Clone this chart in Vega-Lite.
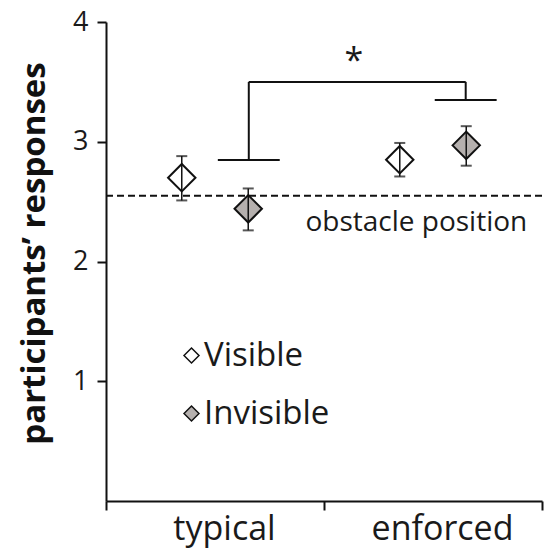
{
  "$schema": "https://vega.github.io/schema/vega-lite/v6.json",
  "width": 436,
  "height": 479,
  "autosize": "none",
  "padding": {"left": 106, "top": 22, "right": 13, "bottom": 49},
  "background": "white",
  "config": {"view": {"stroke": null}, "font": "Open Sans"},
  "resolve": {"scale": {"x": "independent"}},
  "layer": [
    {
      "encoding": {
        "x": {"field": "x", "type": "quantitative", "scale": {"domain": [0, 2]}, "axis": null},
        "y": {"field": "y", "type": "quantitative", "scale": {"domain": [0, 4]}}
      },
      "layer": [
        {
          "data": {"values": [{"y": 2.55}]},
          "mark": {"type": "rule", "color": "#111", "strokeWidth": 2, "strokeDash": [7, 4]},
          "encoding": {"x": null}
        },
        {
          "data": {"values": [
            {"x": 0.655, "x2": 1.65, "y": 3.5, "y2": 3.5},
            {"x": 0.655, "x2": 0.655, "y": 2.848, "y2": 3.5},
            {"x": 1.65, "x2": 1.65, "y": 3.349, "y2": 3.5},
            {"x": 0.513, "x2": 0.797, "y": 2.848, "y2": 2.848},
            {"x": 1.508, "x2": 1.792, "y": 3.349, "y2": 3.349}
          ]},
          "mark": {"type": "rule", "color": "#111", "strokeWidth": 2},
          "encoding": {"x2": {"field": "x2"}, "y2": {"field": "y2"}}
        },
        {
          "data": {"values": [{"x": 1.137, "y": 3.58, "label": "*"}]},
          "mark": {"type": "text", "fontSize": 34, "align": "center", "baseline": "alphabetic", "color": "#1a1a1a"},
          "encoding": {"text": {"field": "label"}}
        },
        {
          "data": {"values": [{"x": 0.915, "y": 2.255, "label": "obstacle position"}]},
          "mark": {"type": "text", "fontSize": 28, "align": "left", "baseline": "alphabetic", "color": "#1a1a1a"},
          "encoding": {"text": {"field": "label"}}
        }
      ]
    },
    {
      "data": {"values": [
        {"condition": "typical", "visibility": "Visible", "mean": 2.70, "lo": 2.51, "hi": 2.88},
        {"condition": "typical", "visibility": "Invisible", "mean": 2.44, "lo": 2.26, "hi": 2.61},
        {"condition": "enforced", "visibility": "Visible", "mean": 2.85, "lo": 2.71, "hi": 2.99},
        {"condition": "enforced", "visibility": "Invisible", "mean": 2.97, "lo": 2.80, "hi": 3.13}
      ]},
      "encoding": {
        "x": {
          "field": "condition", "type": "nominal", "sort": ["typical", "enforced"],
          "scale": {"paddingInner": 0, "paddingOuter": 0},
          "axis": {
            "title": null, "labelAngle": 0, "labelFontSize": 34, "labelColor": "#1a1a1a", "labelOffset": 9,
            "tickBand": "extent", "tickSize": 9, "tickWidth": 2, "tickColor": "#111",
            "domainColor": "#111", "domainWidth": 2, "labelPadding": 2
          }
        },
        "xOffset": {
          "field": "visibility", "type": "nominal", "sort": ["Visible", "Invisible"],
          "scale": {"paddingInner": 0, "paddingOuter": 0.64}
        },
        "y": {
          "field": "mean", "type": "quantitative", "scale": {"domain": [0, 4]},
          "axis": {
            "values": [1, 2, 3, 4], "format": "d", "title": "participants’ responses", "grid": false,
            "titleFontSize": 33, "titleFontWeight": "bold", "titleColor": "#111",
            "titleAngle": -90, "titleX": -62, "titleY": 231, "titleAlign": "center", "titleBaseline": "alphabetic",
            "labelFontSize": 27, "labelColor": "#1a1a1a", "labelPadding": 9,
            "tickSize": 9, "tickWidth": 2, "tickColor": "#111",
            "domainColor": "#111", "domainWidth": 2
          }
        }
      },
      "layer": [
        {
          "mark": {"type": "point", "shape": "diamond", "filled": true, "size": 750, "stroke": "#111", "strokeWidth": 2, "opacity": 1},
          "encoding": {
            "fill": {
              "field": "visibility", "type": "nominal",
              "scale": {"domain": ["Visible", "Invisible"], "range": ["white", "#b5b0ae"]},
              "legend": {
                "orient": "none", "legendX": 69, "legendY": 317, "title": null,
                "symbolType": "diamond", "symbolSize": 225, "symbolStrokeColor": "#111", "symbolStrokeWidth": 1.5,
                "labelFontSize": 33, "labelColor": "#1a1a1a", "rowPadding": 24, "labelOffset": -4, "padding": 0
              }
            }
          }
        },
        {
          "mark": {"type": "rule", "color": "#111", "strokeWidth": 1.5},
          "encoding": {"y": {"field": "lo", "type": "quantitative"}, "y2": {"field": "hi"}}
        },
        {
          "mark": {"type": "tick", "orient": "horizontal", "size": 11, "thickness": 2, "color": "#111"},
          "encoding": {"y": {"field": "lo", "type": "quantitative"}}
        },
        {
          "mark": {"type": "tick", "orient": "horizontal", "size": 11, "thickness": 2, "color": "#111"},
          "encoding": {"y": {"field": "hi", "type": "quantitative"}}
        }
      ]
    }
  ]
}
